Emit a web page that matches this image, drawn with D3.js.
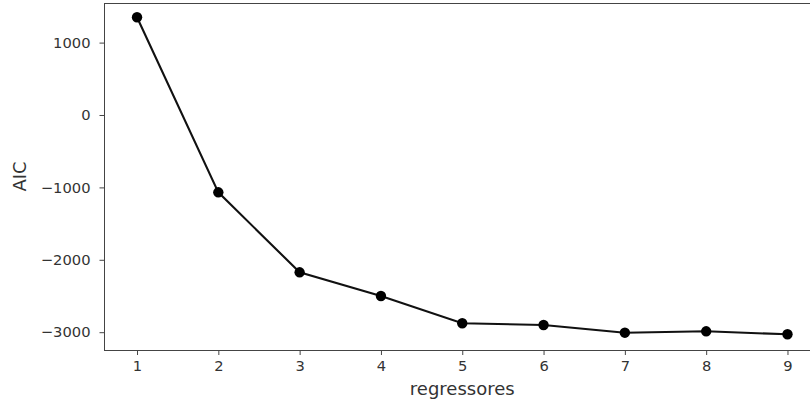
<!DOCTYPE html>
<html>
<head>
<meta charset="utf-8">
<script src="https://cdn.jsdelivr.net/npm/d3@7"></script>
<style>
  html, body { margin: 0; padding: 0; background: #fff; }
  svg { display: block; font-family: "DejaVu Sans", sans-serif; }
</style>
</head>
<body>
<svg id="chart" width="810" height="408"></svg>
<script>
const regressores = [1, 2, 3, 4, 5, 6, 7, 8, 9];
const aic = [1350, -1068, -2173, -2500, -2877, -2900, -3007, -2988, -3029];
const xTicks = [1, 2, 3, 4, 5, 6, 7, 8, 9];
const yTicks = [1000, 0, -1000, -2000, -3000];

(function () {
const svg = d3.select("#chart");
const pLeft = 104.5, pRight = 820, pTop = 3, pBottom = 350;

const x = d3.scaleLinear().domain([0.6, 9.4]).range([pLeft, pRight]);
const y = d3.scaleLinear().domain([-3246, 1547]).range([pBottom, pTop]);

const textColor = "#333";
const spine = "#444";

// spines
svg.append("rect")
  .attr("x", pLeft).attr("y", pTop + 0.5)
  .attr("width", pRight - pLeft).attr("height", pBottom - pTop)
  .attr("fill", "none").attr("stroke", spine).attr("stroke-width", 1);

// x axis
const xAxis = d3.axisBottom(x).tickValues(xTicks).tickFormat(d3.format("d"))
  .tickSize(5).tickPadding(6);
const gx = svg.append("g").attr("transform", `translate(0,${pBottom})`).call(xAxis);
gx.select(".domain").remove();
gx.selectAll(".tick line").attr("stroke", spine);
gx.selectAll(".tick text").attr("fill", textColor).style("font-size", "14.7px")
  .style("font-family", "DejaVu Sans, sans-serif");

// y axis
const yAxis = d3.axisLeft(y).tickValues(yTicks)
  .tickFormat(d => d < 0 ? "\u2212" + Math.abs(d) : String(d))
  .tickSize(5).tickPadding(9);
const gy = svg.append("g").attr("transform", `translate(${pLeft},0)`).call(yAxis);
gy.select(".domain").remove();
gy.selectAll(".tick line").attr("stroke", spine);
gy.selectAll(".tick text").attr("fill", textColor).style("font-size", "14.7px")
  .style("font-family", "DejaVu Sans, sans-serif");

// line
const line = d3.line().x((d, i) => x(regressores[i])).y(d => y(d));
svg.append("path").datum(aic)
  .attr("d", line).attr("fill", "none")
  .attr("stroke", "#111").attr("stroke-width", 2.1);

// markers
svg.selectAll("circle.pt").data(aic).enter().append("circle")
  .attr("class", "pt")
  .attr("cx", (d, i) => x(regressores[i]))
  .attr("cy", d => y(d))
  .attr("r", 5.2).attr("fill", "#000");

// labels
svg.append("text")
  .attr("x", (pLeft + pRight) / 2).attr("y", 395)
  .attr("text-anchor", "middle").attr("fill", textColor)
  .style("font-size", "18px").text("regressores");

svg.append("text")
  .attr("transform", `translate(26,${(pTop + pBottom) / 2}) rotate(-90)`)
  .attr("text-anchor", "middle").attr("fill", textColor)
  .style("font-size", "18px").text("AIC");
})();
</script>
</body>
</html>
